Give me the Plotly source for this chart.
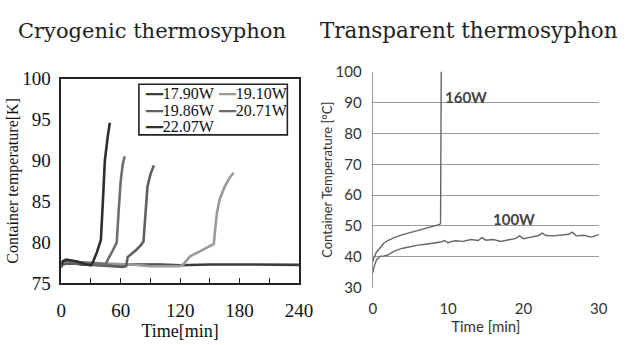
import plotly.graph_objects as go

# ---------------- Left chart: Cryogenic thermosyphon ----------------
cryo_names = ["17.90W", "19.10W", "19.86W", "20.71W", "22.07W"]
cryo_colors = ["#3c3c3c", "#9a9a9a", "#5e5e5e", "#6e6e6e", "#2e2e2e"]

t_1790 = [0, 1, 3, 6, 10, 15, 20, 30, 40, 60, 80, 100, 120, 150, 180, 210, 240]
T_1790 = [76.9, 77.4, 77.6, 77.5, 77.5, 77.4, 77.3, 77.3, 77.2, 77.3, 77.3, 77.3, 77.2, 77.3, 77.3, 77.3, 77.25]

t_1910 = [0, 10, 30, 50, 70, 90, 110, 120, 124, 130, 140, 150, 154, 157, 160, 165, 170, 174]
T_1910 = [77.6, 77.6, 77.5, 77.4, 77.3, 77.1, 77.1, 77.1, 77.4, 78.3, 78.9, 79.5, 79.8, 83.5, 85.3, 86.8, 87.9, 88.5]

t_1986 = [0, 5, 15, 30, 45, 55, 62, 65.5, 67, 75, 80, 83, 85, 87, 90, 93.5]
T_1986 = [77.2, 77.4, 77.4, 77.3, 77.2, 77.1, 77.0, 77.1, 78.2, 79.0, 79.6, 80.1, 84.0, 86.8, 88.3, 89.4]

t_2071 = [0, 3, 8, 15, 25, 35, 45, 47, 52, 56, 58, 60, 62, 64]
T_2071 = [77.6, 77.8, 77.7, 77.6, 77.5, 77.4, 77.3, 77.9, 79.0, 80.0, 84.0, 87.5, 89.5, 90.5]

t_2207 = [0, 2, 5, 10, 15, 20, 25, 30, 32, 36, 40, 42, 44, 47, 49]
T_2207 = [77.3, 77.7, 77.9, 77.8, 77.7, 77.5, 77.3, 77.2, 77.6, 78.8, 80.3, 85.0, 90.0, 93.0, 94.6]

cryo_t = [t_1790, t_1910, t_1986, t_2071, t_2207]
cryo_T = [T_1790, T_1910, T_1986, T_2071, T_2207]

cryo_xticks = [0, 60, 120, 180, 240]
cryo_yticks = [75, 80, 85, 90, 95, 100]

# ---------------- Right chart: Transparent thermosyphon ----------------
t_160 = [0, 0.2, 0.5, 1, 1.5, 2, 3, 4, 5, 6, 7, 8, 8.6, 8.9, 9.0, 9.05, 9.1]
T_160 = [38.3, 40.0, 41.5, 43.2, 44.5, 45.3, 46.4, 47.2, 47.9, 48.6, 49.2, 49.8, 50.3, 50.5, 51.0, 82.0, 105.0]

t_100 = [0, 0.2, 0.5, 1, 1.5, 2, 2.5, 3, 4, 5, 6, 7, 8, 9, 9.5, 10, 10.5, 11, 12, 13, 14, 14.5,
         15, 16, 17, 18, 19, 19.5, 20, 21, 22, 22.5, 23, 24, 25, 26, 26.5, 27, 28, 29, 30]
T_100 = [34.8, 37.0, 39.0, 40.2, 40.3, 40.6, 41.4, 42.0, 42.8, 43.4, 43.8, 44.1, 44.4, 44.8, 45.3,
         44.6, 45.0, 45.2, 45.0, 45.6, 45.3, 46.2, 45.4, 45.6, 45.0, 45.6, 46.0, 46.8, 45.9, 46.4,
         46.9, 47.7, 46.9, 46.8, 47.1, 47.3, 48.0, 46.8, 47.0, 46.4, 47.2]

trans_xticks = [0, 10, 20, 30]
trans_yticks = [30, 40, 50, 60, 70, 80, 90, 100]

W, H = 639, 345
def px(x):
    return x / W
def py(y):
    return 1 - y / H

SERIF = "Liberation Serif"
TITLE_SERIF = "DejaVu Serif"
SANS = "Lato"

fig = go.Figure()

for name, color, t, T in zip(cryo_names, cryo_colors, cryo_t, cryo_T):
    fig.add_trace(go.Scatter(x=t, y=T, mode="lines", name=name,
                             line=dict(color=color, width=2.6),
                             xaxis="x", yaxis="y", showlegend=False))

fig.add_trace(go.Scatter(x=t_160, y=T_160, mode="lines", name="160W",
                         line=dict(color="#666666", width=1.4),
                         xaxis="x2", yaxis="y2", showlegend=False))
fig.add_trace(go.Scatter(x=t_100, y=T_100, mode="lines", name="100W",
                         line=dict(color="#666666", width=1.4),
                         xaxis="x2", yaxis="y2", showlegend=False))

fig.update_layout(
    width=W, height=H,
    margin=dict(l=0, r=0, t=0, b=0),
    paper_bgcolor="white", plot_bgcolor="white",
    xaxis=dict(domain=[px(58), px(303)], range=[0, 240], tickvals=cryo_xticks,
               ticks="inside", ticklen=5, tickcolor="#222", showgrid=False, zeroline=False,
               showline=True, linecolor="#222", linewidth=1.6, mirror=True,
               minor=dict(dtick=30, ticks="inside", ticklen=5, tickcolor="#222"),
               ticklabelstandoff=9,
               tickfont=dict(family=SERIF, size=19, color="#111"),
               title=dict(text="Time[min]", font=dict(family=SERIF, size=18, color="#111"), standoff=2),
               anchor="y"),
    yaxis=dict(domain=[py(291), py(73)], range=[75, 100], tickvals=cryo_yticks,
               ticks="", showgrid=False, zeroline=False,
               showline=True, linecolor="#222", linewidth=1.6, mirror=True,
               ticklabelstandoff=5,
               tickfont=dict(family=SERIF, size=19, color="#111"),
               title=dict(text="Container temperature[K]", font=dict(family=SERIF, size=16, color="#111"), standoff=0),
               anchor="x"),
    xaxis2=dict(domain=[px(379), px(612)], range=[0, 30], tickvals=trans_xticks,
                ticks="", showgrid=False, zeroline=False, showline=False,
                ticklabelstandoff=10,
                tickfont=dict(family=SANS, size=15, color="#333"),
                title=dict(text="Time [min]", font=dict(family=SANS, size=15, color="#333"), standoff=3),
                anchor="y2"),
    yaxis2=dict(domain=[py(295.7), py(65.7)], range=[30, 100], tickvals=trans_yticks,
                ticks="", showgrid=True, gridcolor="#9a9a9a", gridwidth=1, zeroline=False,
                showline=True, linecolor="#9a9a9a", linewidth=1,
                ticklabelstandoff=7,
                tickfont=dict(family=SANS, size=15, color="#333"),
                title=dict(text="Container Temperature [°C]", font=dict(family=SANS, size=13, color="#333"), standoff=0),
                anchor="x2"),
)

# titles
fig.add_annotation(text="Cryogenic thermosyphon", x=px(11), y=py(22), xref="paper", yref="paper",
                   xanchor="left", yanchor="middle", showarrow=False,
                   font=dict(family=TITLE_SERIF, size=21, color="#222"))
fig.add_annotation(text="Transparent thermosyphon", x=px(323), y=py(22), xref="paper", yref="paper",
                   xanchor="left", yanchor="middle", showarrow=False,
                   font=dict(family=TITLE_SERIF, size=21.5, color="#222"))

# legend box for left chart
fig.add_shape(type="rect", xref="paper", yref="paper",
              x0=px(138), x1=px(291), y0=py(133), y1=py(79),
              line=dict(color="#222", width=1.6), fillcolor="white", layer="above")
leg_pos = [(142, 89), (217, 89), (142, 106.5), (217, 106.5), (142, 124)]
for (lx, ly), name, color in zip(leg_pos, cryo_names, cryo_colors):
    fig.add_annotation(text=(f'<span style="color:{color};font-family:DejaVu Sans Mono;font-size:14px">━━</span>'
                             f'{name}'),
                       x=px(lx), y=py(ly), xref="paper", yref="paper",
                       xanchor="left", yanchor="middle", showarrow=False,
                       font=dict(family=SERIF, size=16, color="#111"))

# series labels right chart
fig.add_annotation(text="<b>160W</b>", x=12.4, y=91.7, xref="x2", yref="y2", showarrow=False,
                   font=dict(family=SANS, size=15, color="#444"))
fig.add_annotation(text="<b>100W</b>", x=18.8, y=52.3, xref="x2", yref="y2", showarrow=False,
                   font=dict(family=SANS, size=15, color="#444"))

fig.write_html("out.html")
